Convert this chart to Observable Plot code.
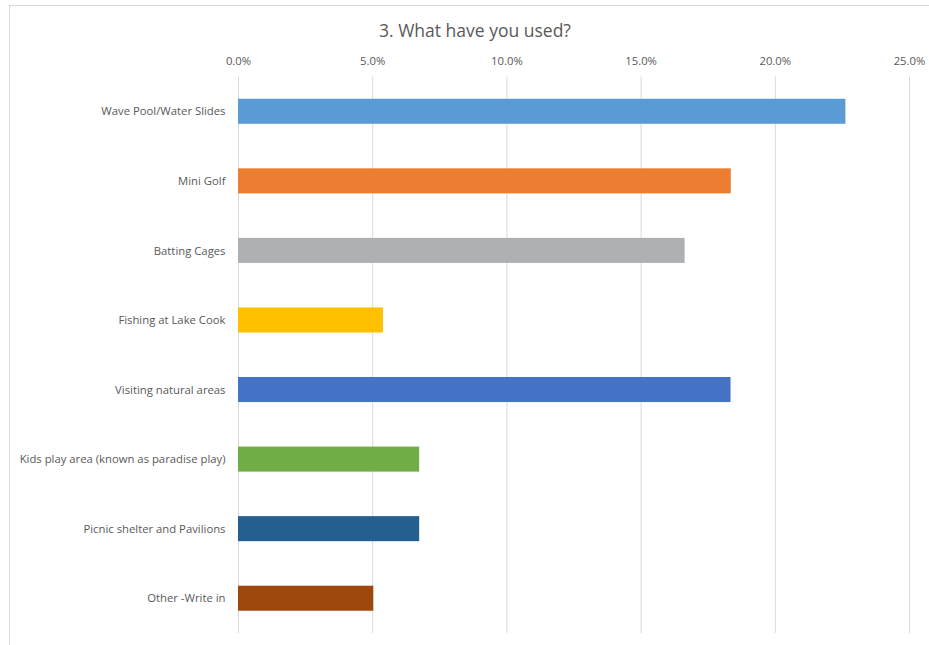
<!DOCTYPE html>
<html><head><meta charset="utf-8">
<script src="https://cdn.jsdelivr.net/npm/d3@7"></script>
<script src="https://cdn.jsdelivr.net/npm/@observablehq/plot@0.6"></script>
<style>
body{margin:0;background:#fff;}
#wrap{position:relative;width:929px;height:645px;overflow:hidden;background:#fff;}
#frame{position:absolute;left:9px;top:5px;width:1000px;height:700px;border-left:1px solid #d9d9d9;border-top:1px solid #d9d9d9;pointer-events:none;}
#title{position:relative;height:46px;width:950px;text-align:center;font-family:"Open Sans",sans-serif;font-size:17.5px;line-height:20px;padding-top:20px;box-sizing:border-box;color:#595959;}
#chart svg{display:block;}
</style>
</head><body>
<div id="wrap">
<div id="frame"></div>
<div id="title">3. What have you used?</div>
<div id="chart"></div>
</div>
<script>
const categories = [
  "Wave Pool/Water Slides",
  "Mini Golf",
  "Batting Cages",
  "Fishing at Lake Cook",
  "Visiting natural areas",
  "Kids play area (known as paradise play)",
  "Picnic shelter and Pavilions",
  "Other -Write in"
];
const values = [22.63, 18.36, 16.64, 5.40, 18.35, 6.75, 6.75, 5.04];
const barColors = ["#5B9BD5", "#ED7D31", "#AFB0B3", "#FFC000", "#4472C4", "#70AD47", "#255E91", "#9E480E"];
const tickValues = [0, 5, 10, 15, 20, 25];

const data = categories.map((c, i) => ({category: c, value: values[i], color: barColors[i]}));
const fmt = d => d.toFixed(1) + "%";

const chart = Plot.plot({
  width: 929,
  height: 599,
  marginTop: 30.5,
  marginBottom: 12,
  marginLeft: 238,
  marginRight: 20,
  style: {fontFamily: "'Open Sans', sans-serif", fontSize: "11.3px", color: "#595959", background: "transparent"},
  x: {domain: [0, 25]},
  y: {domain: categories, paddingInner: 0.64, paddingOuter: 0.32, round: false},
  color: {type: "identity"},
  marks: [
    Plot.gridX(tickValues, {stroke: "#d9d9d9", strokeOpacity: 1}),
    Plot.barX(data, {x: "value", y: "category", fill: "color"}),
    Plot.axisX({anchor: "top", ticks: tickValues, tickSize: 0, tickPadding: 12, tickFormat: fmt, label: null}),
    Plot.axisY({tickSize: 0, tickPadding: 13, label: null})
  ]
});
document.getElementById("chart").appendChild(chart);
</script>
</body></html>
